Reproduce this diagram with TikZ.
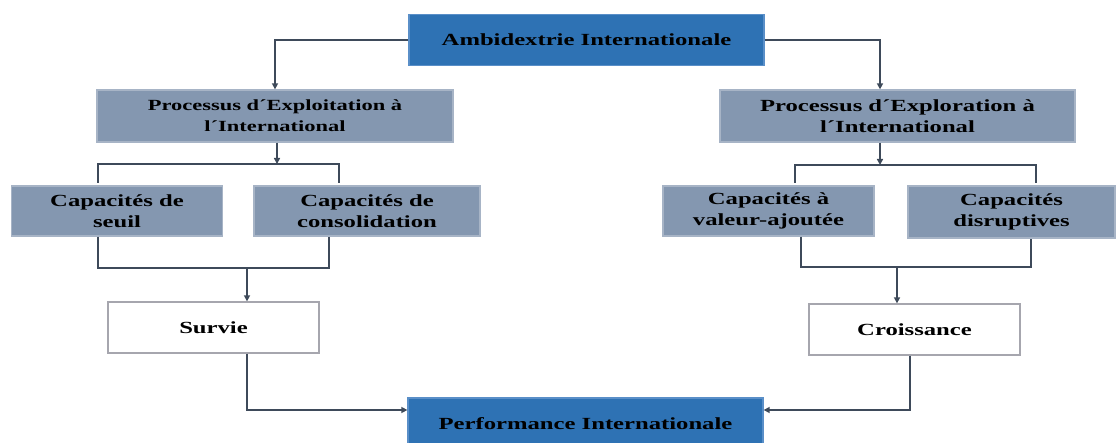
\documentclass[tikz,border=0pt]{standalone}
\usepackage{fontspec}
\setmainfont{Liberation Serif}[FakeStretch=1.45]
\usetikzlibrary{arrows.meta}
\definecolor{blueA}{HTML}{2E72B4}
\definecolor{blueEdge}{HTML}{5A8FC8}
\definecolor{greyB}{HTML}{8497B0}
\definecolor{greyEdge}{HTML}{A7B4C6}
\definecolor{whiteEdge}{HTML}{A6A6AE}
\definecolor{lineC}{HTML}{3E4A5A}
\begin{document}
\begin{tikzpicture}[x=1pt,y=-1pt,
  basebox/.style={line width=1.3pt, inner sep=0pt, align=center,
    font=\bfseries\fontsize{17}{21}\selectfont, text=black},
  bluebox/.style={basebox, fill=blueA, draw=blueEdge},
  greybox/.style={basebox, fill=greyB, draw=greyEdge},
  whitebox/.style={basebox, fill=white, draw=whiteEdge},
  conn/.style={draw=lineC, line width=2pt},
  arr/.style={conn, -{Triangle[length=6pt,width=6pt]}}]
\path[use as bounding box] (0,0) rectangle (1116,443);
\clip (0,0) rectangle (1116,443);
\fill[white] (0,0) rectangle (1116,443);

\node[bluebox, minimum width=355, minimum height=51] (amb) at (586.5,40) {Ambidextrie Internationale};
\node[greybox, minimum width=356, minimum height=52,
      font=\bfseries\fontsize{15.5}{21}\selectfont] (pe) at (275,116) {Processus d´Exploitation à\\l´International};
\node[greybox, minimum width=355, minimum height=52] (px) at (897.5,116) {Processus d´Exploration à\\l´International};
\node[greybox, minimum width=211, minimum height=50] (cs) at (117,211) {Capacités de\\seuil};
\node[greybox, minimum width=226, minimum height=50] (cc) at (367,211) {Capacités de\\consolidation};
\node[greybox, minimum width=211, minimum height=50] (cv) at (768.5,211) {Capacités à\\valeur-ajoutée};
\node[greybox, minimum width=207, minimum height=52] (cd) at (1011.5,212) {Capacités\\disruptives};
\node[whitebox, minimum width=211, minimum height=51] (sv) at (213.5,327.5) {Survie};
\node[whitebox, minimum width=211, minimum height=51] (cr) at (914.5,329.5) {Croissance};
\node[bluebox, minimum width=355, minimum height=52] (pf) at (585.5,424) {Performance Internationale};

% top arrows
\draw[arr] (amb.west) -| (pe.north);
\draw[arr] (amb.east) -| ([xshift=-17.5]px.north);

% left upper bracket
\coordinate (lt) at (277,164);
\coordinate (lb1) at (98,183);
\coordinate (lb2) at (339,183);
\draw[arr] (lt |- pe.south) -- (lt);
\draw[conn] (lb1) |- (lt) -| (lb2);

% right upper bracket
\coordinate (rt) at (880,165);
\coordinate (rb1) at (795,183);
\coordinate (rb2) at (1036,183);
\draw[arr] (rt |- px.south) -- (rt);
\draw[conn] (rb1) |- (rt) -| (rb2);

% left lower bracket
\coordinate (lm) at (247,268);
\draw[conn] ([xshift=-19]cs.south) |- (lm) -| ([xshift=-38]cc.south);
\draw[arr] (lm) -- (lm |- sv.north);

% right lower bracket
\coordinate (rm) at (897,267);
\draw[conn] ([xshift=32.5]cv.south) |- (rm) -| ([xshift=19.5]cd.south);
\draw[arr] (rm) -- (rm |- cr.north);

% to performance
\draw[arr] ([xshift=33.5]sv.south) |- ([yshift=14]pf.west);
\draw[arr] ([xshift=-4.5]cr.south) |- ([yshift=14]pf.east);
\end{tikzpicture}
\end{document}
